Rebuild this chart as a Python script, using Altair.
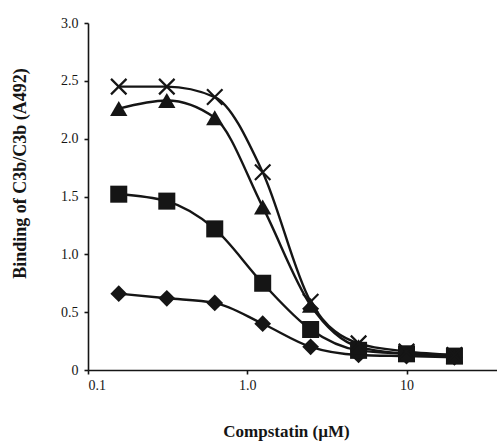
import altair as alt
import pandas as pd

conc = [0.156, 0.3125, 0.625, 1.25, 2.5, 5, 10, 20]
diamond = [0.66, 0.62, 0.58, 0.40, 0.20, 0.13, 0.12, 0.11]
square = [1.52, 1.46, 1.22, 0.75, 0.35, 0.17, 0.14, 0.12]
triangle = [2.26, 2.33, 2.18, 1.41, 0.56, 0.20, 0.14, 0.12]
cross = [2.45, 2.45, 2.36, 1.71, 0.59, 0.23, 0.16, 0.13]

series = {"diamond": diamond, "square": square, "triangle": triangle, "cross": cross}
rows = []
for name, vals in series.items():
    for c, v in zip(conc, vals):
        rows.append({"conc": c, "value": v, "series": name})
df = pd.DataFrame(rows)

FONT = "Liberation Serif"
INK = "#151515"

x = alt.X("conc:Q", scale=alt.Scale(type="log", domain=[0.1, 37], nice=False),
          axis=alt.Axis(values=[0.1, 1, 10], title="Compstatin (µM)",
                        labelExpr="datum.value == 1 ? '1.0' : datum.label",
                        grid=False, tickSize=4, labelPadding=4,
                        titleFontSize=17,
                        titleX=198, titleAlign="center",
                        titleY=61, titleBaseline="middle"))
y = alt.Y("value:Q", scale=alt.Scale(domain=[0, 3]),
          axis=alt.Axis(values=[0, 0.5, 1, 1.5, 2, 2.5, 3],
                        title="Binding of C3b/C3b (A492)",
                        labelExpr="datum.value == 0 ? '0' : format(datum.value, '.1f')",
                        grid=False, tickSize=4, labelPadding=6,
                        titleFontSize=18,
                        titleX=-68, titleY=150, titleAngle=-90, titleBaseline="middle"))

base = alt.Chart(df)

lines = base.mark_line(color=INK, strokeWidth=2.4, interpolate="monotone", clip=True).encode(
    x=x, y=y, detail="series:N")

filled = base.transform_filter("datum.series != 'cross'").mark_point(
    filled=True, color=INK, opacity=1).encode(
    x=x, y=y,
    shape=alt.Shape("series:N", scale=alt.Scale(domain=["diamond", "square", "triangle"],
                                                range=["diamond", "square", "triangle-up"]),
                    legend=None),
    size=alt.Size("series:N", scale=alt.Scale(domain=["diamond", "square", "triangle"],
                                              range=[280, 300, 240]),
                  legend=None))

crosses = base.transform_filter("datum.series == 'cross'").mark_point(
    shape="M-1,-1L1,1M-1,1L1,-1", filled=False, color=INK, strokeWidth=2.2,
    size=240, opacity=1).encode(x=x, y=y)

chart = alt.layer(lines, filled, crosses).properties(
    width=409, height=347,
    autosize=alt.AutoSizeParams(type="none"),
    padding={"left": 88, "top": 23, "right": 0, "bottom": 73},
).configure_view(stroke=None).configure_axis(
    labelFont=FONT, titleFont=FONT, labelFontSize=14,
    titleFontWeight="bold", labelColor=INK, titleColor=INK,
    domainColor=INK, tickColor=INK, domainWidth=1.6, tickWidth=1.6,
)

chart.save("out.html", embed_options={"renderer": "svg", "actions": False})
